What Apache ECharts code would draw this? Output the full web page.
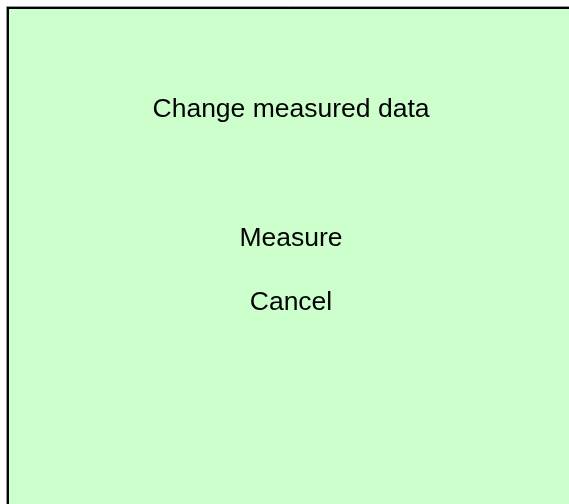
<!DOCTYPE html>
<html>
<head>
<meta charset="utf-8">
<script src="https://cdn.jsdelivr.net/npm/echarts@6/dist/echarts.min.js"></script>
<style>
  html, body { margin: 0; padding: 0; background: #fff; }
  #main { width: 569px; height: 504px; }
</style>
</head>
<body>
<div id="main"></div>
<script>
// texts shown in the panel
const title = 'Change measured data'
const buttons = ['Measure', 'Cancel']
const textY = [110, 238.5, 303]

const chart = echarts.init(document.getElementById('main'), null, { renderer: 'canvas' })

const font = { fontFamily: '"Liberation Sans", Arial, sans-serif', fontSize: 26.5, fill: '#000' }
const labels = [title].concat(buttons).map((t, i) => ({
  type: 'text',
  x: 291,
  y: textY[i],
  style: Object.assign({ text: t, align: 'center', verticalAlign: 'middle' }, font)
}))

chart.setOption({
  backgroundColor: '#fff',
  animation: false,
  graphic: [
    // grey outer line
    {
      type: 'rect',
      shape: { x: 6.5, y: 6.5, width: 600, height: 600 },
      style: { fill: 'none', stroke: '#9a9a9a', lineWidth: 1 }
    },
    // panel with black frame
    {
      type: 'rect',
      shape: { x: 8, y: 8, width: 600, height: 600 },
      style: { fill: '#ccffcc', stroke: '#000', lineWidth: 2 }
    }
  ].concat(labels)
})
</script>
</body>
</html>
